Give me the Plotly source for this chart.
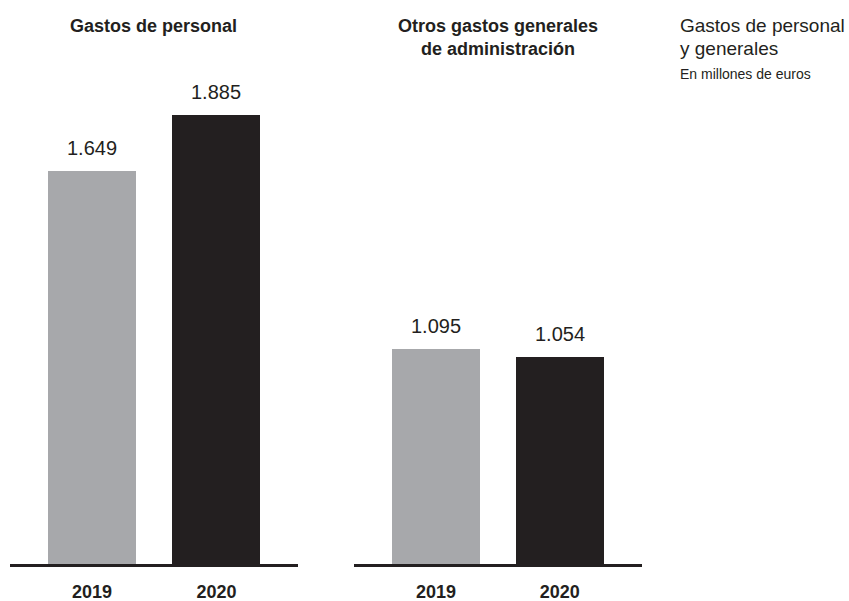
import plotly.graph_objects as go

W, H = 849, 601

years = ["2019", "2020"]
personal = [1649, 1885]
otros = [1095, 1054]
bar_colors = ["#a7a8ab", "#231f20"]
panel_titles = ["Gastos de personal", "Otros gastos generales<br>de administración"]
side_title = ["Gastos de personal", "y generales"]
side_sub = "En millones de euros"

DARK = "#231f20"
FONT = "Liberation Sans, Arial, sans-serif"

def px_x(v):
    return v / W

def px_y(v):
    return 1 - v / H

fig = go.Figure()
fig.add_trace(go.Bar(x=years, y=personal, marker=dict(color=bar_colors, line=dict(width=0)),
                     width=0.707, xaxis="x", yaxis="y", hoverinfo="skip"))
fig.add_trace(go.Bar(x=years, y=otros, marker=dict(color=bar_colors, line=dict(width=0)),
                     width=0.707, xaxis="x2", yaxis="y2", hoverinfo="skip"))

base_y = px_y(564)
axis_common = dict(type="category", showgrid=False, zeroline=False, showline=True,
                   linecolor=DARK, linewidth=2.5, ticks="", ticklabelstandoff=10,
                   tickfont=dict(family=FONT, size=18, color=DARK, weight="bold"),
                   fixedrange=True)
yaxis_common = dict(showgrid=False, zeroline=False, showline=False, showticklabels=False,
                    fixedrange=True)

annotations = []
# value labels
for xa, ya, vals in (("x", "y", personal), ("x2", "y2", otros)):
    for i, v in enumerate(vals):
        annotations.append(dict(x=i, y=v, xref=xa, yref=ya, yanchor="bottom", xanchor="center",
                                yshift=10, showarrow=False,
                                text=f"{v:,}".replace(",", "."),
                                font=dict(family=FONT, size=20, color=DARK)))
# panel titles
for cx, t in ((153.5, panel_titles[0]), (498, panel_titles[1])):
    annotations.append(dict(x=px_x(cx), y=px_y(14), xref="paper", yref="paper",
                            xanchor="center", yanchor="top", showarrow=False, text=t,
                            font=dict(family=FONT, size=18, color=DARK, weight="bold")))
# side text
annotations.append(dict(x=px_x(678), y=px_y(13.5), xref="paper", yref="paper", xanchor="left",
                        yanchor="top", showarrow=False, text=side_title[0], align="left",
                        font=dict(family=FONT, size=19, color=DARK)))
annotations.append(dict(x=px_x(678), y=px_y(35.8), xref="paper", yref="paper", xanchor="left",
                        yanchor="top", showarrow=False, text=side_title[1], align="left",
                        font=dict(family=FONT, size=19, color=DARK)))
annotations.append(dict(x=px_x(678), y=px_y(63.6), xref="paper", yref="paper", xanchor="left",
                        yanchor="top", showarrow=False, text=side_sub, align="left",
                        font=dict(family=FONT, size=14, color=DARK)))

fig.update_layout(
    width=W, height=H,
    margin=dict(l=0, r=0, t=0, b=0),
    paper_bgcolor="white", plot_bgcolor="white",
    showlegend=False,
    bargap=0,
    xaxis=dict(domain=[px_x(10), px_x(298)], range=[-0.659, 1.655], anchor="y", **axis_common),
    xaxis2=dict(domain=[px_x(354), px_x(641.5)], range=[-0.661, 1.659], anchor="y2", **axis_common),
    yaxis=dict(domain=[base_y, 1], range=[0, 2368], anchor="x", **yaxis_common),
    yaxis2=dict(domain=[base_y, 1], range=[0, 2872], anchor="x2", **yaxis_common),
    annotations=annotations,
)

fig.write_html("out.html")
